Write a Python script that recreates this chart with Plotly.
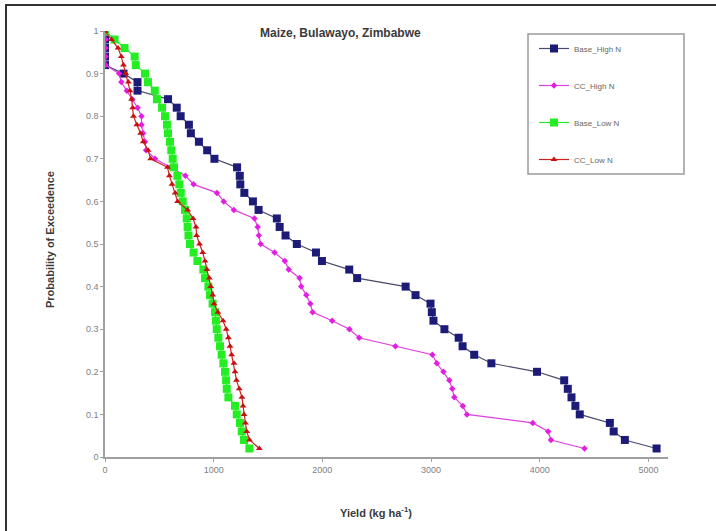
import plotly.graph_objects as go

prob = [round(1.0 - 0.02 * i, 2) for i in range(50)]

base_high = [0, 0, 0, 0, 0, 170, 299, 299, 580, 660,
             696, 772, 790, 864, 940, 1007, 1215, 1240, 1245, 1282,
             1361, 1413, 1581, 1607, 1661, 1765, 1941, 1996, 2247, 2320,
             2766, 2857, 2995, 3007, 3022, 3123, 3254, 3290, 3397, 3555,
             3975, 4225, 4258, 4292, 4328, 4368, 4645, 4680, 4783, 5075]

cc_high = [0, 5, 5, 5, 5, 130, 150, 200, 250, 300,
           336, 336, 350, 368, 378, 460, 600, 740, 815, 1030,
           1092, 1185, 1375, 1405, 1415, 1432, 1560, 1655, 1690, 1790,
           1805, 1852, 1889, 1910, 2090, 2249, 2338, 2672, 3012, 3053,
           3114, 3168, 3195, 3214, 3292, 3330, 3936, 4077, 4103, 4412]

base_low = [0, 88, 180, 273, 283, 368, 395, 458, 478, 525,
            552, 570, 580, 598, 610, 623, 635, 666, 684, 697,
            715, 736, 752, 760, 768, 782, 815, 850, 905, 920,
            951, 966, 990, 1012, 1021, 1028, 1043, 1058, 1073, 1089,
            1104, 1114, 1120, 1135, 1196, 1212, 1242, 1258, 1279, 1328]

cc_low = [0, 60, 120, 150, 170, 190, 215, 230, 245, 255,
          262, 293, 328, 352, 397, 420, 575, 593, 617, 646,
          668, 760, 810, 837, 843, 870, 899, 920, 938, 960,
          973, 991, 1003, 1039, 1086, 1115, 1135, 1150, 1165, 1187,
          1196, 1210, 1235, 1260, 1270, 1279, 1292, 1304, 1330, 1420]

x_ticks = [0, 1000, 2000, 3000, 4000, 5000]
y_ticks = [0, 0.1, 0.2, 0.3, 0.4, 0.5, 0.6, 0.7, 0.8, 0.9, 1]
y_tick_text = ["0", "0.1", "0.2", "0.3", "0.4", "0.5", "0.6", "0.7", "0.8", "0.9", "1"]

series = [
    ("Base_High N", base_high, "#1c1c78", "#4a4a6a", "square", 8),
    ("CC_High N", cc_high, "#e21ee2", "#e040e0", "diamond", 5),
    ("Base_Low N", base_low, "#22ee22", "#22ee22", "square", 8),
    ("CC_Low N", cc_low, "#c81010", "#d02020", "triangle-up", 6),
]

fig = go.Figure()
for i, (name, xs, mcol, lcol, sym, sz) in enumerate(series):
    fig.add_trace(go.Scatter(
        x=xs, y=prob, name=name, mode="lines+markers",
        line=dict(color=lcol, width=1.2),
        marker=dict(color=mcol, symbol=sym, size=sz, line=dict(width=0)),
        legendgroup=f"g{i}",
    ))

L, R, T, B = 105, 48, 31, 74
W, H = 716, 531
pw = W - L - R
ph = H - T - B

def px(xpix):
    return (xpix - L) / pw

def py(ypix):
    return (H - B - ypix) / ph

fig.update_layout(
    width=W, height=H,
    margin=dict(l=L, r=R, t=T, b=B, pad=0),
    paper_bgcolor="white", plot_bgcolor="white",
    font=dict(family="Arial, Liberation Sans, sans-serif", color="#555555", size=9),
    showlegend=True,
    legend=dict(
        x=px(534), y=py(34), xanchor="left", yanchor="top",
        borderwidth=0, bgcolor="rgba(0,0,0,0)",
        font=dict(size=8, color="#666666"),
        tracegroupgap=18, itemwidth=30,
        traceorder="grouped",
    ),
    xaxis=dict(
        range=[0, 5180], tickvals=x_ticks, ticktext=[str(v) for v in x_ticks],
        showgrid=False, zeroline=False, showline=True, linecolor="#a0a0a0", linewidth=1.5,
        ticks="outside", ticklen=3, tickcolor="#a0a0a0",
        tickfont=dict(size=9, color="#808080"),
    ),
    yaxis=dict(
        range=[0, 1], tickvals=y_ticks, ticktext=y_tick_text,
        showgrid=False, zeroline=False, showline=True, linecolor="#a0a0a0", linewidth=1.5,
        ticks="outside", ticklen=3, tickcolor="#a0a0a0",
        tickfont=dict(size=9, color="#808080"),
    ),
    annotations=[
        dict(text="<b>Maize, Bulawayo, Zimbabwe</b>", xref="paper", yref="paper",
             x=px(340), y=py(33), xanchor="center", yanchor="middle", showarrow=False,
             font=dict(size=12, color="#3a3a3a")),
        dict(text="<b>Probability of Exceedence</b>", xref="paper", yref="paper",
             x=px(50), y=py(240), xanchor="center", yanchor="middle", showarrow=False,
             textangle=-90, font=dict(size=11, color="#3a3a3a")),
        dict(text="<b>Yield (kg ha<sup>-1</sup>)</b>", xref="paper", yref="paper",
             x=px(376), y=py(512), xanchor="center", yanchor="middle", showarrow=False,
             font=dict(size=11, color="#3a3a3a")),
    ],
    shapes=[
        dict(type="rect", xref="paper", yref="paper",
             x0=px(6), x1=px(740), y0=py(560), y1=py(5),
             line=dict(color="#333333", width=2), fillcolor="rgba(0,0,0,0)"),
        dict(type="rect", xref="paper", yref="paper",
             x0=px(528), x1=px(684), y0=py(174), y1=py(34),
             line=dict(color="#9a9a9a", width=1.5), fillcolor="rgba(0,0,0,0)",
             layer="below"),
    ],
)

fig.write_html("out.html")
